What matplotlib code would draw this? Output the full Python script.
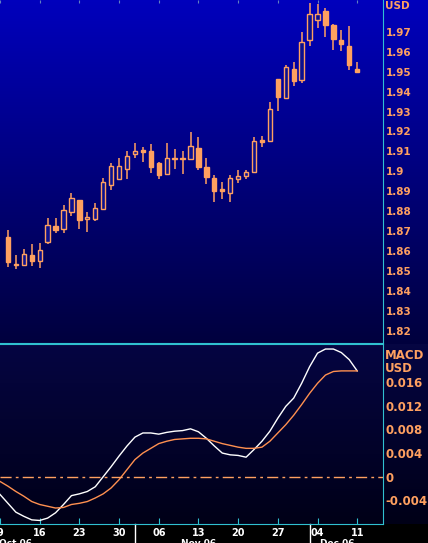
import numpy as np
import matplotlib
matplotlib.use("Agg")
from matplotlib import pyplot as plt
from matplotlib.patches import Rectangle

# OHLC daily candles, 10 Oct 2006 .. 11 Dec 2006
opens  = [1.8670, 1.8532, 1.8532, 1.8582, 1.8552, 1.8643, 1.8725, 1.8712, 1.8798, 1.8855,
          1.8760, 1.8760, 1.8813, 1.8932, 1.8962, 1.9012, 1.9085, 1.9107, 1.9100, 1.9040,
          1.8985, 1.9068, 1.9068, 1.9062, 1.9118, 1.9023, 1.8968, 1.8912, 1.8893, 1.8962,
          1.8978, 1.8995, 1.9155, 1.9153, 1.9465, 1.9367, 1.9515, 1.9458, 1.9658, 1.9758,
          1.9803, 1.9732, 1.9658, 1.9628, 1.9513]
closes = [1.8543, 1.8535, 1.8587, 1.8552, 1.8607, 1.8732, 1.8705, 1.8807, 1.8865, 1.8758,
          1.8772, 1.8817, 1.8948, 1.9027, 1.9028, 1.9077, 1.9100, 1.9098, 1.9023, 1.8983,
          1.9067, 1.9062, 1.9062, 1.9128, 1.9022, 1.8972, 1.8903, 1.8903, 1.8968, 1.8978,
          1.8998, 1.9150, 1.9148, 1.9315, 1.9373, 1.9525, 1.9453, 1.9650, 1.9788, 1.9788,
          1.9732, 1.9662, 1.9637, 1.9532, 1.9497]
highs  = [1.8703, 1.8582, 1.8608, 1.8637, 1.8642, 1.8765, 1.8765, 1.8833, 1.8892, 1.8855,
          1.8795, 1.8843, 1.8968, 1.9043, 1.9065, 1.9102, 1.9142, 1.9123, 1.9137, 1.9045,
          1.9140, 1.9113, 1.9100, 1.9195, 1.9170, 1.9065, 1.8983, 1.8948, 1.8983, 1.9005,
          1.9008, 1.9170, 1.9175, 1.9350, 1.9465, 1.9535, 1.9547, 1.9698, 1.9843, 1.9840,
          1.9818, 1.9738, 1.9708, 1.9730, 1.9548]
lows   = [1.8518, 1.8510, 1.8527, 1.8525, 1.8517, 1.8637, 1.8692, 1.8692, 1.8778, 1.8712,
          1.8697, 1.8753, 1.8813, 1.8905, 1.8957, 1.8963, 1.9068, 1.9045, 1.8990, 1.8963,
          1.8980, 1.9013, 1.8985, 1.9062, 1.9008, 1.8937, 1.8847, 1.8862, 1.8847, 1.8943,
          1.8960, 1.8992, 1.9123, 1.9153, 1.9303, 1.9365, 1.9428, 1.9445, 1.9627, 1.9717,
          1.9672, 1.9610, 1.9605, 1.9507, 1.9493]

# MACD line (white) and signal (orange); first value is the day before (Oct 09)
macd   = [-0.0030, -0.0045, -0.0060, -0.0067, -0.0073, -0.0074, -0.0070, -0.0061, -0.0047, -0.0032,
          -0.0029, -0.0025, -0.0017, 0.0000, 0.0017, 0.0035, 0.0052, 0.0067, 0.0074, 0.0074,
          0.0072, 0.0075, 0.0077, 0.0078, 0.0081, 0.0076, 0.0065, 0.0052, 0.0040, 0.0037,
          0.0036, 0.0033, 0.0046, 0.0060, 0.0077, 0.0099, 0.0119, 0.0133, 0.0158, 0.0186,
          0.0209, 0.0216, 0.0216, 0.0210, 0.0198, 0.0179]
signal = [-0.0008, -0.0016, -0.0025, -0.0033, -0.0042, -0.0047, -0.0050, -0.0053, -0.0052, -0.0047,
          -0.0045, -0.0042, -0.0036, -0.0029, -0.0019, -0.0005, 0.0012, 0.0029, 0.0040, 0.0048,
          0.0056, 0.0060, 0.0063, 0.0064, 0.0065, 0.0065, 0.0064, 0.0060, 0.0056, 0.0053,
          0.0050, 0.0048, 0.0048, 0.0050, 0.0060, 0.0074, 0.0088, 0.0104, 0.0122, 0.0141,
          0.0158, 0.0172, 0.0178, 0.0179, 0.0179, 0.0179]

day_pos = [-1, 4, 9, 14, 19, 24, 29, 34, 39, 44]
day_labels = ["9", "16", "23", "30", "06", "13", "20", "27", "04", "11"]
month_sep = [16, 38]
month_pos = [1.0, 24.0, 41.5]
month_labels = ["Oct 06", "Nov 06", "Dec 06"]

price_ticks = [1.82, 1.83, 1.84, 1.85, 1.86, 1.87, 1.88, 1.89, 1.9, 1.91, 1.92, 1.93, 1.94, 1.95, 1.96, 1.97]
macd_ticks = [-0.004, 0, 0.004, 0.008, 0.012, 0.016]

ORANGE = "#ffa060"
CYAN = "#30c0d0"
W, H = 428, 543

fig = plt.figure(figsize=(W / 100, H / 100), dpi=100)
fig.patch.set_facecolor("black")

# gradient backgrounds
bg = fig.add_axes([0, 0, 1, 1])
bg.set_axis_off()
grad = np.zeros((H, 1, 3))
yy = np.arange(H)
top = yy < 344
t = yy[top] / 343
grad[top, 0, 2] = 0.74 - 0.50 * t
bt = (yy >= 344) & (yy < 524)
t2 = (yy[bt] - 344) / 180
grad[bt, 0, 2] = 0.26 - 0.17 * t2
grad[bt, 0, 0] = 0.02 * (1 - t2)
grad[bt, 0, 1] = 0.02 * (1 - t2)
bg.imshow(grad, aspect="auto", extent=[0, 1, 0, 1])
bg.set_xlim(0, 1)
bg.set_ylim(0, 1)

xl = (-0.625, 47.25)
ax1 = fig.add_axes([0, (H - 343) / H, 383 / W, 343 / H])
ax2 = fig.add_axes([0, (H - 524) / H, 383 / W, 180 / H], sharex=ax1)
for ax in (ax1, ax2):
    ax.patch.set_alpha(0)
    for s in ("left", "top"):
        ax.spines[s].set_visible(False)
    ax.spines["right"].set_color(CYAN)
    ax.spines["bottom"].set_color(CYAN)
    ax.yaxis.tick_right()
    ax.tick_params(axis="y", length=0, labelcolor=ORANGE, labelsize=7.5, pad=2)

# candles
for i in range(len(opens)):
    o, c, h, l = opens[i], closes[i], highs[i], lows[i]
    up = c >= o
    ax1.vlines(i, l, h, color=ORANGE, lw=1.1, zorder=2)
    b0, b1 = min(o, c), max(o, c)
    hgt = max(b1 - b0, 0.0004)
    ax1.add_patch(Rectangle((i - 0.27, b0), 0.54, hgt, facecolor=("#0a1090" if up else ORANGE),
                            edgecolor=ORANGE, lw=1.0, zorder=3))
ax1.set_xlim(*xl)
ax1.set_ylim(1.8138, 1.986)
ax1.set_yticks(price_ticks)
ax1.set_yticklabels([f"{v:g}" for v in price_ticks], fontweight="bold")
ax1.tick_params(axis="x", bottom=False, labelbottom=False, top=True, direction="in",
                length=2, color="#6080c0")
ax1.text(1.005, 1.0, "PRICE\nUSD", transform=ax1.transAxes, color=ORANGE, fontsize=7.5,
         fontweight="bold", va="center", ha="left")

# MACD
xm = np.arange(-1, len(macd) - 1)
ax2.plot(xm, macd, color="white", lw=1.0)
ax2.plot(xm, signal, color="#ff9050", lw=1.0)
ax2.axhline(0, color=ORANGE, lw=1.0, ls=(0, (8, 3, 2, 3)))
ax2.set_ylim(-0.0080, 0.02245)
ax2.set_yticks(macd_ticks)
ax2.set_yticklabels(["-0.004", "0", "0.004", "0.008", "0.012", "0.016"], fontsize=8.5, fontweight="bold")
ax2.text(1.005, 0.97, "MACD\nUSD", transform=ax2.transAxes, color=ORANGE, fontsize=8.5,
         fontweight="bold", va="top", ha="left", linespacing=1.0)
ax2.set_xticks(day_pos)
ax2.set_xticklabels(day_labels, color="white", fontsize=7, fontweight="bold")
ax2.tick_params(axis="x", direction="in", length=4, color=CYAN, pad=3)
for m in month_sep:
    ax2.plot([m, m], [0, -0.12], transform=ax2.get_xaxis_transform(), color="white",
             lw=1, clip_on=False)
for p, lab in zip(month_pos, month_labels):
    ax2.text(p, -0.085, lab, transform=ax2.get_xaxis_transform(), color="white",
             fontsize=6.5, fontweight="bold", ha="center", va="top")
ax2.spines["top"].set_visible(True)
ax2.spines["top"].set_color(CYAN)

fig.savefig("out.png", dpi=100, facecolor="black")
